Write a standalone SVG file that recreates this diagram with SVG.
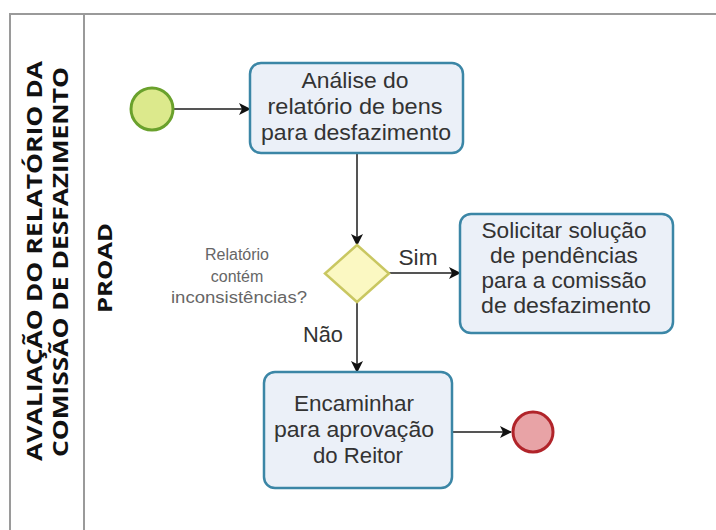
<svg xmlns="http://www.w3.org/2000/svg" width="716" height="530" viewBox="0 0 716 530">
<defs>
<marker id="arr" viewBox="0 0 12 12" refX="11" refY="6" markerWidth="12" markerHeight="12" markerUnits="userSpaceOnUse" orient="auto">
<path d="M0,0 L12,6 L0,12 L3,6 Z" fill="#111"/>
</marker>
</defs>
<style>
.lane{fill:none;stroke:#9a9a9a;stroke-width:2}
.title{font-family:"Open Sans","Liberation Sans",sans-serif;font-weight:bold;fill:#111;text-anchor:middle}
.task rect{fill:#ebf0f8;stroke:#3b86a6;stroke-width:2.5}
.tt{font-family:"Liberation Sans",Arial,sans-serif;font-size:21.5px;fill:#333;text-anchor:middle}
.lbl{font-family:"Liberation Sans",Arial,sans-serif;font-size:16px;fill:#666;text-anchor:middle}
.conn path{fill:none;stroke:#555;stroke-width:2;marker-end:url(#arr)}
</style>
<rect width="716" height="530" fill="#fff"/>
<g id="pool">
<path class="lane" d="M10,540 L10,14 L716,14"/>
<path class="lane" d="M84,14 L84,540"/>
<text class="title" font-size="21" transform="translate(42,261) rotate(-90)" textLength="400" lengthAdjust="spacingAndGlyphs">AVALIAÇÃO DO RELATÓRIO DA</text>
<text class="title" font-size="21" transform="translate(68,262) rotate(-90)" textLength="390" lengthAdjust="spacingAndGlyphs">COMISSÃO DE DESFAZIMENTO</text>
<text class="title" font-size="19" transform="translate(112,268) rotate(-90)" textLength="90" lengthAdjust="spacingAndGlyphs">PROAD</text>
</g>
<g class="conn" id="connectors">
<path d="M174,109 L250,109"/>
<path d="M357,153 L357,245"/>
<path d="M389,273 L460,273"/>
<path d="M357,302 L357,372"/>
<path d="M452,432 L511,432"/>
<text class="tt" x="418" y="265" textLength="39" lengthAdjust="spacingAndGlyphs">Sim</text>
<text class="tt" x="323" y="342" textLength="40" lengthAdjust="spacingAndGlyphs">Não</text>
</g>
<g id="start">
<circle cx="152" cy="109" r="21" fill="#dce98c" stroke="#6aa12c" stroke-width="3"/>
</g>
<g id="task1" class="task">
<rect x="250" y="63" width="213" height="90" rx="11"/>
<text class="tt" x="355" y="88" textLength="107" lengthAdjust="spacingAndGlyphs">Análise do</text>
<text class="tt" x="355" y="114" textLength="175" lengthAdjust="spacingAndGlyphs">relatório de bens</text>
<text class="tt" x="356" y="140" textLength="190" lengthAdjust="spacingAndGlyphs">para desfazimento</text>
</g>
<g id="gateway">
<path d="M357,245 L389,273.5 L357,302 L325,273.5 Z" fill="#fbf8c2" stroke="#c9c761" stroke-width="2.5"/>
<text class="lbl" x="237" y="260">Relatório</text>
<text class="lbl" x="237" y="282">contém</text>
<text class="lbl" x="239" y="303" textLength="136" lengthAdjust="spacingAndGlyphs">inconsistências?</text>
</g>
<g id="task2" class="task">
<rect x="460" y="214" width="213" height="119" rx="11"/>
<text class="tt" x="564" y="238" textLength="165" lengthAdjust="spacingAndGlyphs">Solicitar solução</text>
<text class="tt" x="564" y="263" textLength="148" lengthAdjust="spacingAndGlyphs">de pendências</text>
<text class="tt" x="564" y="288" textLength="165" lengthAdjust="spacingAndGlyphs">para a comissão</text>
<text class="tt" x="566" y="313" textLength="170" lengthAdjust="spacingAndGlyphs">de desfazimento</text>
</g>
<g id="task3" class="task">
<rect x="264" y="372" width="188" height="116" rx="11"/>
<text class="tt" x="354" y="411" textLength="120" lengthAdjust="spacingAndGlyphs">Encaminhar</text>
<text class="tt" x="354" y="437" textLength="160" lengthAdjust="spacingAndGlyphs">para aprovação</text>
<text class="tt" x="358" y="463" textLength="90" lengthAdjust="spacingAndGlyphs">do Reitor</text>
</g>
<g id="end">
<circle cx="533" cy="432" r="20" fill="#e8a3a6" stroke="#b1242a" stroke-width="3"/>
</g>
</svg>
